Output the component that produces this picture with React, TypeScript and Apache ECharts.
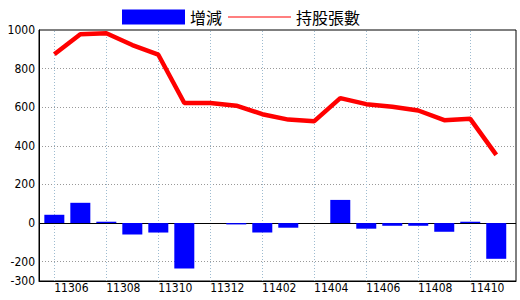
import React, { useEffect, useRef } from 'react';
import * as echarts from 'echarts';

const categories = ['11305', '11306', '11307', '11308', '11309', '11310', '11311', '11312', '11401', '11402', '11403', '11404', '11405', '11406', '11407', '11408', '11409', '11410'];
const changeValues = [43, 105, 7, -59, -49, -235, 0, -7, -49, -24, 0, 120, -29, -14, -14, -45, 7, -185];
const holdingValues = [874, 978, 983, 922, 872, 622, 622, 608, 564, 536, 528, 647, 616, 603, 583, 533, 540, 353];
const yLabelValues = [-300, -200, 0, 200, 400, 600, 800, 1000];
const yGridValues = [-200, 200, 400, 600, 800];
const xLabelIndexes = [1, 3, 5, 7, 9, 11, 13, 15, 17];
const xGridIndexes = [0, 2, 4, 6, 8, 10, 12, 14, 16];
const seriesNames = ['增減', '持股張數'];

const numFont = '"Liberation Sans Narrow", "DejaVu Sans Condensed", sans-serif';
const cjkFont = '"Noto Sans CJK TC", sans-serif';

export default function App() {
  const ref = useRef<HTMLDivElement>(null);
  useEffect(() => {
    document.body.style.margin = '0';
    if (!ref.current) return;
    const chart = echarts.init(ref.current, null, { renderer: 'svg' });
    chart.setOption({
      animation: false,
      backgroundColor: '#fff',
      legend: {
        left: 122,
        top: 9,
        padding: 0,
        itemWidth: 63,
        itemHeight: 15,
        itemGap: 6,
        textStyle: { fontFamily: cjkFont, fontSize: 16, color: '#000' },
        data: [
          { name: seriesNames[0], icon: 'rect' },
          { name: seriesNames[1], icon: 'path://M0,0H64V1H0Z' },
        ],
      },
      grid: {
        left: 39,
        top: 30,
        width: 477,
        height: 251,
        show: true,
        borderColor: '#000',
        borderWidth: 1,
        containLabel: false,
      },
      xAxis: {
        type: 'value',
        min: -0.59,
        max: 17.76,
        axisLine: { show: true, onZero: false, lineStyle: { color: '#000', width: 1 } },
        axisTick: { show: false },
        splitLine: { show: false },
        axisLabel: {
          customValues: xLabelIndexes,
          formatter: (v: number) => categories[Math.round(v)] ?? '',
          fontFamily: numFont,
          fontSize: 12,
          color: '#000',
          margin: 1,
          padding: [0, 18, 0, 0],
        },
      },
      yAxis: {
        type: 'value',
        min: -300,
        max: 1000,
        axisLine: { show: true, onZero: false, lineStyle: { color: '#000', width: 1 } },
        axisTick: { show: false, customValues: yGridValues },
        splitLine: { show: true, lineStyle: { color: '#999', type: [1, 2], width: 1 } },
        axisLabel: {
          customValues: yLabelValues,
          formatter: (v: number) => String(v),
          fontFamily: numFont,
          fontSize: 12,
          color: '#000',
          margin: 4,
        },
      },
      series: [
        {
          name: seriesNames[0],
          type: 'bar',
          barWidth: 20,
          z: 3,
          itemStyle: { color: '#0000ff' },
          data: changeValues.map((v, i) => [i, v]),
          markLine: {
            silent: true,
            z: 1,
            symbol: 'none',
            label: { show: false },
            lineStyle: { color: '#9dbbd0', type: [1, 2], width: 1 },
            data: xGridIndexes.map((i) => ({ xAxis: i })),
          },
        },
        {
          name: seriesNames[1],
          type: 'line',
          symbol: 'none',
          z: 4,
          itemStyle: { color: '#ff0000' },
          lineStyle: { color: '#ff0000', width: 4.5 },
          data: holdingValues.map((v, i) => [i, v]),
          markLine: {
            silent: true,
            z: 2,
            symbol: 'none',
            label: { show: false },
            lineStyle: { color: '#000', type: 'solid', width: 1 },
            data: [{ yAxis: 0 }],
          },
        },
      ],
    });
    return () => chart.dispose();
  }, []);
  return <div ref={ref} style={{ width: 520, height: 300 }} />;
}
